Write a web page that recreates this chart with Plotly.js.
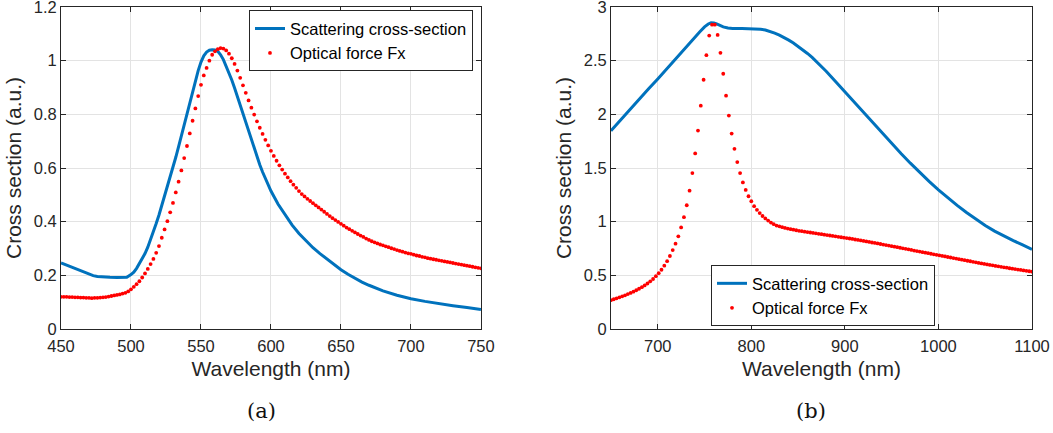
<!DOCTYPE html>
<html>
<head>
<meta charset="utf-8">
<script src="https://cdn.plot.ly/plotly-3.0.1.min.js"></script>
<style>html,body{margin:0;padding:0;background:#fff;}#chart{width:1053px;height:433px;}</style>
</head>
<body>
<div id="chart"></div>
<script>
// ---- Panel (a) ----
const scatA_x = [450,455,460,465,470,473,476,480,485,490,495,497,500,
  502,504,506,508,510,512,514,516,518,520,522,524,526,528,530,532,534,536,538,540,542,544,546,548,550,552,554,556,558,560,
  562,564,566,568,570,572,574,576,578,580,582,584,586,588,590,592,594,596,598,600,
  605,610,615,620,625,630,635,640,645,650,
  655,660,665,670,675,680,690,700,710,720,730,740,750];
const scatA_y = [0.246,0.236,0.225,0.214,0.204,0.199,0.196,0.194,0.193,0.192,0.192,0.193,0.203,
  0.212,0.226,0.244,0.262,0.281,0.305,0.332,0.362,0.393,0.425,
  0.460,0.492,0.527,0.563,0.601,0.640,0.680,0.721,0.763,0.805,
  0.847,0.887,0.925,0.963,0.995,1.018,1.032,1.039,1.041,1.040,
  1.035,1.022,1.004,0.980,0.955,0.928,0.898,0.866,0.833,0.800,
  0.768,0.735,0.703,0.672,0.641,0.612,0.585,0.560,0.536,0.514,
  0.466,0.425,0.388,0.356,0.328,0.303,0.281,0.260,0.240,0.221,
  0.204,0.189,0.175,0.163,0.152,0.142,0.126,0.113,0.103,0.094,0.087,0.080,0.073];

const forceA_x = [
  450,452,454,456,458,460,462,464,466,468,
  470,472,474,476,478,480,482,484,486,488,
  490,492,494,496,498,500,502,504,506,508,
  510,512,514,516,518,520,522,524,526,528,
  530,532,534,536,538,540,542,544,546,548,
  550,552,554,556,558,560,562,564,566,568,
  570,572,574,576,578,580,582,584,586,588,
  590,592,594,596,598,600,602,604,606,608,
  610,612,614,616,618,620,622,624,626,628,
  630,632,634,636,638,640,642,644,646,648,
  650,652,654,656,658,660,662,664,666,668,
  670,672,674,676,678,680,682,684,686,688,
  690,692,694,696,698,700,702,704,706,708,
  710,712,714,716,718,720,722,724,726,728,
  730,732,734,736,738,740,742,744,746,748,
  750];
const forceA_y = [
  0.120,0.120,0.120,0.119,0.119,0.118,0.118,0.117,0.117,0.116,
  0.116,0.115,0.116,0.116,0.117,0.118,0.119,0.121,0.123,0.125,
  0.127,0.129,0.132,0.135,0.140,0.148,0.157,0.167,0.178,0.192,
  0.207,0.224,0.242,0.261,0.284,0.309,0.340,0.371,0.402,0.435,
  0.470,0.509,0.549,0.591,0.637,0.682,0.729,0.776,0.822,0.868,
  0.910,0.945,0.973,1.000,1.022,1.035,1.043,1.047,1.045,1.038,
  1.026,1.009,0.988,0.963,0.936,0.908,0.880,0.852,0.825,0.799,
  0.774,0.750,0.727,0.705,0.684,0.664,0.645,0.627,0.610,0.594,
  0.579,0.565,0.551,0.538,0.526,0.514,0.503,0.494,0.485,0.477,
  0.469,0.461,0.453,0.445,0.437,0.429,0.421,0.413,0.406,0.399,
  0.392,0.385,0.378,0.372,0.366,0.360,0.354,0.348,0.343,0.337,
  0.332,0.327,0.323,0.319,0.315,0.312,0.308,0.305,0.301,0.298,
  0.294,0.291,0.288,0.285,0.282,0.280,0.277,0.274,0.272,0.269,
  0.267,0.264,0.262,0.260,0.258,0.256,0.254,0.252,0.250,0.248,
  0.246,0.244,0.242,0.240,0.238,0.236,0.234,0.232,0.230,0.228,
  0.226];

// ---- Panel (b) ----
const scatB_x = [650,660,670,680,690,700,710,720,730,740,
  745,750,754,757,760,763,766,770,775,780,
  790,800,805,810,815,820,825,830,835,840,
  845,850,855,860,865,870,875,880,890,900,
  910,920,930,940,950,960,970,980,990,1000,
  1010,1020,1030,1040,1050,1060,1070,1080,1090,1100];
const scatB_y = [1.846,1.945,2.045,2.140,2.235,2.330,2.430,2.530,2.625,2.720,
  2.770,2.815,2.842,2.853,2.852,2.843,2.830,2.815,2.804,2.800,
  2.800,2.800,2.798,2.793,2.785,2.773,2.757,2.738,2.716,2.691,
  2.664,2.634,2.602,2.567,2.530,2.490,2.447,2.401,2.306,2.210,
  2.113,2.016,1.918,1.823,1.728,1.635,1.545,1.458,1.375,1.297,
  1.222,1.152,1.085,1.022,0.965,0.912,0.866,0.824,0.783,0.742];

const forceB_x = [
  650,653,656,659,662,665,668,671,674,677,
  680,683,686,689,692,695,698,701,704,707,
  710,713,716,719,722,725,728,731,734,737,
  740,743,746,749,752,755,758,761,764,767,
  770,773,776,779,782,785,788,791,794,797,
  800,803,806,809,812,815,818,821,824,827,
  830,833,836,839,842,845,848,851,854,857,
  860,863,866,869,872,875,878,881,884,887,
  890,893,896,899,902,905,908,911,914,917,
  920,923,926,929,932,935,938,941,944,947,
  950,953,956,959,962,965,968,971,974,977,
  980,983,986,989,992,995,998,1001,1004,1007,
  1010,1013,1016,1019,1022,1025,1028,1031,1034,1037,
  1040,1043,1046,1049,1052,1055,1058,1061,1064,1067,
  1070,1073,1076,1079,1082,1085,1088,1091,1094,1097,
  1100];
const forceB_y = [
  0.269,0.277,0.286,0.295,0.304,0.314,0.325,0.336,0.348,0.361,
  0.375,0.390,0.406,0.424,0.444,0.466,0.492,0.520,0.552,0.590,
  0.632,0.680,0.735,0.795,0.863,0.946,1.042,1.153,1.289,1.453,
  1.636,1.849,2.081,2.322,2.551,2.734,2.835,2.835,2.740,2.573,
  2.378,2.174,1.988,1.821,1.679,1.555,1.453,1.366,1.296,1.237,
  1.190,1.144,1.110,1.080,1.053,1.030,1.010,0.992,0.977,0.964,
  0.957,0.949,0.942,0.936,0.930,0.925,0.920,0.915,0.911,0.907,
  0.903,0.899,0.895,0.891,0.887,0.883,0.879,0.875,0.871,0.867,
  0.863,0.859,0.855,0.851,0.847,0.843,0.839,0.834,0.830,0.825,
  0.821,0.816,0.811,0.806,0.802,0.797,0.792,0.787,0.782,0.777,
  0.772,0.767,0.762,0.757,0.752,0.747,0.742,0.737,0.731,0.726,
  0.721,0.716,0.711,0.706,0.701,0.696,0.691,0.686,0.681,0.676,
  0.671,0.666,0.661,0.656,0.651,0.646,0.641,0.636,0.631,0.626,
  0.621,0.616,0.611,0.606,0.602,0.597,0.593,0.588,0.584,0.579,
  0.575,0.571,0.566,0.562,0.558,0.554,0.550,0.546,0.542,0.538,
  0.534];

const seriesNames = ['Scattering cross-section', 'Optical force Fx'];
const captions = ['(a)', '(b)'];
const xTitle = 'Wavelength (nm)';
const yTitle = 'Cross section (a.u.)';

const BLUE = '#0072BD', RED = '#ff0000', AX = '#262626', GRID = '#e3e3e3';
const FONT = 'Liberation Sans, Arial, Helvetica, sans-serif';

const traces = [
  {x: scatA_x, y: scatA_y, xaxis: 'x', yaxis: 'y', type: 'scatter', mode: 'lines',
   name: seriesNames[0], line: {color: BLUE, width: 3}, legend: 'legend'},
  {x: forceA_x, y: forceA_y, xaxis: 'x', yaxis: 'y', type: 'scatter', mode: 'markers',
   name: seriesNames[1], marker: {color: RED, size: 3.8}, legend: 'legend'},
  {x: scatB_x, y: scatB_y, xaxis: 'x2', yaxis: 'y2', type: 'scatter', mode: 'lines',
   name: seriesNames[0], line: {color: BLUE, width: 3}, legend: 'legend2'},
  {x: forceB_x, y: forceB_y, xaxis: 'x2', yaxis: 'y2', type: 'scatter', mode: 'markers',
   name: seriesNames[1], marker: {color: RED, size: 3.8}, legend: 'legend2'}
];

function xa(domain, range, dtick, tick0) {
  return {domain: domain, range: range, dtick: dtick, tick0: tick0, autorange: false,
    showline: true, linecolor: AX, linewidth: 1, mirror: 'ticks',
    ticks: 'inside', ticklen: 5, tickcolor: AX, tickwidth: 1,
    showgrid: true, gridcolor: GRID, gridwidth: 1, zeroline: false,
    tickfont: {family: FONT, size: 16.5, color: AX}, automargin: false,
    ticklabelstandoff: 2, ticklabeloverflow: 'allow',
    title: {text: xTitle, font: {family: FONT, size: 21, color: AX}, standoff: 7}};
}
function ya(range, dtick, anchor) {
  return {range: range, dtick: dtick, tick0: 0, autorange: false, anchor: anchor,
    showline: true, linecolor: AX, linewidth: 1, mirror: 'ticks',
    ticks: 'inside', ticklen: 5, tickcolor: AX, tickwidth: 1,
    showgrid: true, gridcolor: GRID, gridwidth: 1, zeroline: false,
    tickfont: {family: FONT, size: 16.5, color: AX}, automargin: false,
    ticklabeloverflow: 'allow',
    title: {text: yTitle, font: {family: FONT, size: 21, color: AX}, standoff: 6}};
}

const x1 = xa([0, 0.4325], [450, 750], 50, 450); x1.anchor = 'y';
const x2 = xa([0.5664, 1], [650, 1100], 100, 0); x2.anchor = 'y2';

const legendBase = {bgcolor: '#ffffff', bordercolor: AX, borderwidth: 1,
  font: {family: FONT, size: 16.5, color: '#000'}, tracegroupgap: 0};

const layout = {
  width: 1053, height: 433,
  margin: {l: 61, r: 21, t: 7, b: 104},
  paper_bgcolor: '#fff', plot_bgcolor: '#fff',
  showlegend: true,
  xaxis: x1, yaxis: ya([0, 1.2000001], 0.2, 'x'),
  xaxis2: x2, yaxis2: ya([0, 3.0000001], 0.5, 'x2'),
  legend: Object.assign({x: 0.4243, y: 0.99, xanchor: 'right', yanchor: 'top'}, legendBase),
  legend2: Object.assign({x: 0.6694, y: 0.009, xanchor: 'left', yanchor: 'bottom'}, legendBase),
  annotations: [
    {text: captions[0], xref: 'paper', yref: 'paper', x: 0.206, y: -0.254, xanchor: 'center', yanchor: 'middle',
     showarrow: false, font: {family: 'DejaVu Serif, serif', size: 21, color: '#111'}},
    {text: captions[1], xref: 'paper', yref: 'paper', x: 0.7724, y: -0.254, xanchor: 'center', yanchor: 'middle',
     showarrow: false, font: {family: 'DejaVu Serif, serif', size: 21, color: '#111'}}
  ]
};

Plotly.newPlot('chart', traces, layout, {staticPlot: true, displayModeBar: false});
</script>
</body>
</html>
